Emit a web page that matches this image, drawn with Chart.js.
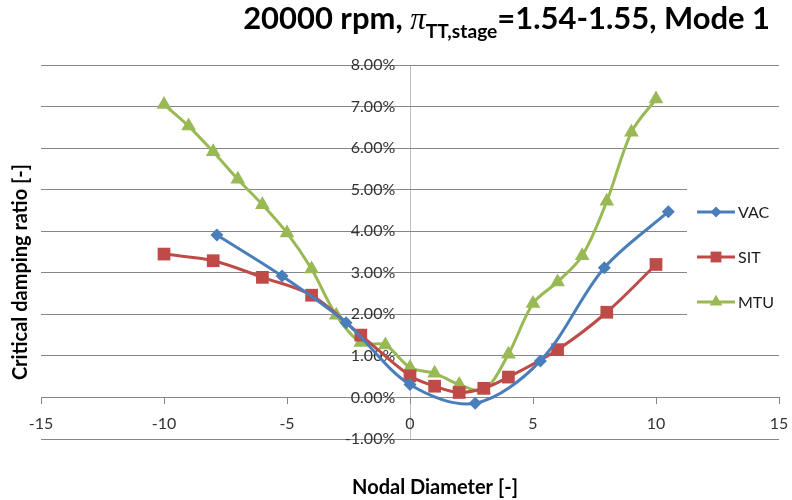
<!DOCTYPE html>
<html>
<head>
<meta charset="utf-8">
<script src="https://cdn.jsdelivr.net/npm/chart.js"></script>
<style>
  html, body { margin: 0; padding: 0; background: #fff; }
  #chart { display: block; }
</style>
</head>
<body>
<canvas id="chart" width="792" height="500"></canvas>
<script>
// values, damping ratio in %
var seriesNames = ["VAC", "SIT", "MTU"];

var vacX = [-7.85, -5.2, -2.6, 0, 2.65, 5.3, 7.9, 10.5];
var vacY = [3.91, 2.92, 1.8, 0.31, -0.14, 0.88, 3.12, 4.47];

var sitX = [-10, -8, -6, -4, -2, 0, 1, 2, 3, 4, 6, 8, 10];
var sitY = [3.45, 3.29, 2.89, 2.46, 1.5, 0.52, 0.27, 0.12, 0.22, 0.49, 1.15, 2.05, 3.2];

var mtuX = [-10, -9, -8, -7, -6, -5, -4, -3, -2, -1, 0, 1, 2, 3, 4, 5, 6, 7, 8, 9, 10];
var mtuY = [7.05, 6.53, 5.91, 5.25, 4.64, 3.96, 3.09, 1.98, 1.32, 1.26, 0.72, 0.58, 0.31, 0.18, 1.04, 2.26, 2.78, 3.41, 4.72, 6.38, 7.18];

var xTicks = [-15, -10, -5, 0, 5, 10, 15];
var yTicks = [-1, 0, 1, 2, 3, 4, 5, 6, 7, 8];

const FONT = "Lato, 'Open Sans', sans-serif";
const colors = ["#4a7ebb", "#be4b48", "#98b954"];
const markers = ["rectRot", "rect", "triangle"];
const markerSize = [6.5, 9, 8.5];

function toPoints(xs, ys) {
  return xs.map((x, i) => ({ x: x, y: ys[i] }));
}

function makeSet(i, xs, ys) {
  return {
    label: seriesNames[i],
    data: toPoints(xs, ys),
    borderColor: colors[i],
    backgroundColor: colors[i],
    borderWidth: 3,
    tension: 0.33,
    pointStyle: markers[i],
    pointRadius: markerSize[i],
    pointBorderWidth: 0,
    pointHoverRadius: markerSize[i]
  };
}

function drawMarker(ctx, style, r, x, y) {
  ctx.beginPath();
  if (style === "rectRot") {
    ctx.moveTo(x, y - r); ctx.lineTo(x + r, y); ctx.lineTo(x, y + r); ctx.lineTo(x - r, y);
  } else if (style === "rect") {
    const s = Math.SQRT1_2 * r;
    ctx.rect(x - s, y - s, 2 * s, 2 * s);
  } else {
    ctx.moveTo(x, y - r);
    ctx.lineTo(x + r * 0.866, y + r * 0.5);
    ctx.lineTo(x - r * 0.866, y + r * 0.5);
  }
  ctx.closePath();
  ctx.fill();
}

// white legend box sits over the gridlines, like in Excel
const legendBox = {
  id: "legendBox",
  beforeDatasetsDraw(chart) {
    const ctx = chart.ctx;
    ctx.save();
    ctx.fillStyle = "#fff";
    ctx.fillRect(687, 186, 105, 142);
    ctx.restore();
  },
  afterDraw(chart) {
    const ctx = chart.ctx;
    ctx.save();
    chart.data.datasets.forEach((ds, i) => {
      const y = 212 + i * 45;
      ctx.strokeStyle = ds.borderColor;
      ctx.lineWidth = 3;
      ctx.beginPath();
      ctx.moveTo(697, y);
      ctx.lineTo(735, y);
      ctx.stroke();
      ctx.fillStyle = ds.borderColor;
      drawMarker(ctx, ds.pointStyle, ds.pointRadius * 0.85, 716, y);
      ctx.fillStyle = "#1a1a1a";
      ctx.font = "16px " + FONT;
      ctx.textAlign = "left";
      ctx.textBaseline = "middle";
      ctx.fillText(ds.label, 738, y + 1);
    });
    ctx.restore();
  }
};

// title with subscript plus the two axis titles
const titles = {
  id: "titles",
  afterDraw(chart) {
    const ctx = chart.ctx;
    ctx.save();
    ctx.fillStyle = "#000";
    ctx.textBaseline = "alphabetic";
    ctx.textAlign = "left";

    let fs = 31;
    const parts = [
      { t: "20000 rpm, ", f: s => "bold " + s + "px " + FONT, dy: 0, k: 1 },
      { t: "\u03c0", f: s => "italic " + s + "px 'Liberation Serif', serif", dy: 0, k: 1 },
      { t: "TT,stage", f: s => "bold " + s + "px " + FONT, dy: 0.3, k: 0.62 },
      { t: "=1.54-1.55, Mode 1", f: s => "bold " + s + "px " + FONT, dy: 0, k: 1 }
    ];
    function total(size) {
      let w = 0;
      parts.forEach(p => { ctx.font = p.f(size * p.k); w += ctx.measureText(p.t).width; });
      return w;
    }
    const target = 527;
    let w = total(fs);
    if (w > target) { fs = fs * target / w; w = total(fs); }
    let x = 770 - w;
    parts.forEach(p => {
      ctx.font = p.f(fs * p.k);
      ctx.fillText(p.t, x, 29 + p.dy * fs);
      x += ctx.measureText(p.t).width;
    });

    ctx.font = "bold 20px " + FONT;
    ctx.textAlign = "center";
    ctx.textBaseline = "middle";
    ctx.fillText("Nodal Diameter [-]", 435, 488);

    ctx.translate(21, 272);
    ctx.rotate(-Math.PI / 2);
    ctx.fillText("Critical damping ratio [-]", 0, 0);
    ctx.restore();
  }
};

const ctx = document.getElementById("chart").getContext("2d");

new Chart(ctx, {
  type: "line",
  data: {
    datasets: [
      makeSet(0, vacX, vacY),
      makeSet(1, sitX, sitY),
      makeSet(2, mtuX, mtuY)
    ]
  },
  options: {
    responsive: false,
    maintainAspectRatio: false,
    animation: false,
    events: [],
    layout: { padding: { left: 41, right: 13, top: 65, bottom: 61 } },
    plugins: {
      legend: { display: false },
      title: { display: false },
      tooltip: { enabled: false }
    },
    scales: {
      x: {
        type: "linear",
        position: { y: 0 },
        min: xTicks[0],
        max: xTicks[xTicks.length - 1],
        afterBuildTicks: axis => { axis.ticks = xTicks.map(v => ({ value: v })); },
        afterFit: axis => { axis.paddingLeft = 0; axis.paddingRight = 0; },
        ticks: {
          color: "#333333",
          font: { family: FONT, size: 16 },
          padding: 11,
          maxRotation: 0,
          autoSkip: false
        },
        grid: {
          drawOnChartArea: true,
          drawTicks: true,
          tickLength: 6,
          // only the vertical axis line at x = 0
          color: c => (c.tick && c.tick.value === 0 ? "#bfbfbf" : "rgba(0,0,0,0)"),
          tickColor: "#868686"
        },
        border: { display: true, color: "#868686", width: 1 }
      },
      y: {
        type: "linear",
        // labels sit a little left of the x = 0 line
        position: { x: -0.6 },
        min: yTicks[0],
        max: yTicks[yTicks.length - 1],
        afterBuildTicks: axis => { axis.ticks = yTicks.map(v => ({ value: v })); },
        ticks: {
          color: "#333333",
          font: { family: FONT, size: 16 },
          callback: v => v.toFixed(2) + "%"
        },
        grid: {
          drawTicks: false,
          color: "#868686"
        },
        border: { display: false }
      }
    }
  },
  plugins: [legendBox, titles]
});
</script>
</body>
</html>
